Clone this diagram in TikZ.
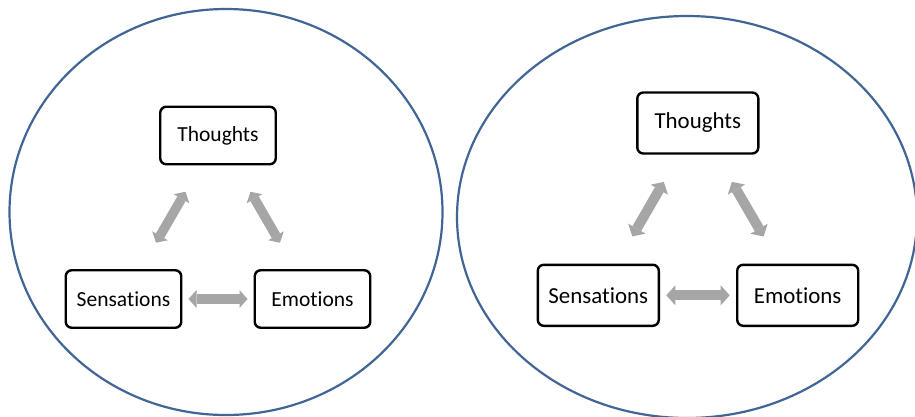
\documentclass[tikz,border=0pt]{standalone}
\usepackage{fontspec}
\setmainfont{Carlito}[Ligatures={NoCommon,NoRare,NoContextual}]
\usetikzlibrary{arrows.meta}
\definecolor{ringblue}{RGB}{65,102,150}
\definecolor{arrowgray}{RGB}{166,166,166}
\begin{document}
\begin{tikzpicture}[x=1pt,y=-1pt,
  ring/.style={draw=ringblue,line width=2.2pt},
  box/.style={draw=black,line width=2.4pt,rounded corners=6pt,fill=white,inner sep=0pt,align=center},
  leftbox/.style={box,minimum width=115.5pt,minimum height=57.5pt,font=\fontsize{21.5}{24}\selectfont},
  rightbox/.style={box,minimum width=121pt,minimum height=61pt,font=\fontsize{22.9}{26}\selectfont},
  leftarrow/.style={draw=arrowgray,line width=9.5pt,
    {Triangle[length=8pt,width=18pt,line width=0pt]}-{Triangle[length=8pt,width=18pt,line width=0pt]},
    shorten <=65pt, shorten >=65pt},
  rightarrow/.style={draw=arrowgray,line width=10pt,
    {Triangle[length=9pt,width=20pt,line width=0pt]}-{Triangle[length=9pt,width=20pt,line width=0pt]},
    shorten <=68pt, shorten >=68pt}
]
\useasboundingbox (0,0) rectangle (915,416);
\fill[white] (0,0) rectangle (915,416);

% left ring
\draw[ring] (226,212) ellipse [x radius=216.5pt, y radius=203pt];
\node[leftbox] (T1) at (218,135.5) {Thoughts};
\node[leftbox] (S1) at (123.5,299) {Sensations};
\node[leftbox] (E1) at (312.5,299) {Emotions};
\draw[leftarrow] (T1.center) -- (S1.center);
\draw[leftarrow] (T1.center) -- (E1.center);
\draw[leftarrow] (S1.center) -- (E1.center);

% right ring
\draw[ring] (687,217) ellipse [x radius=230pt, y radius=201pt];
\node[rightbox] (T2) at (697.8,123) {Thoughts};
\node[rightbox] (S2) at (598.3,295.3) {Sensations};
\node[rightbox] (E2) at (797.7,295.3) {Emotions};
\draw[rightarrow] (T2.center) -- (S2.center);
\draw[rightarrow] (T2.center) -- (E2.center);
\draw[rightarrow] (S2.center) -- (E2.center);
\end{tikzpicture}
\end{document}
